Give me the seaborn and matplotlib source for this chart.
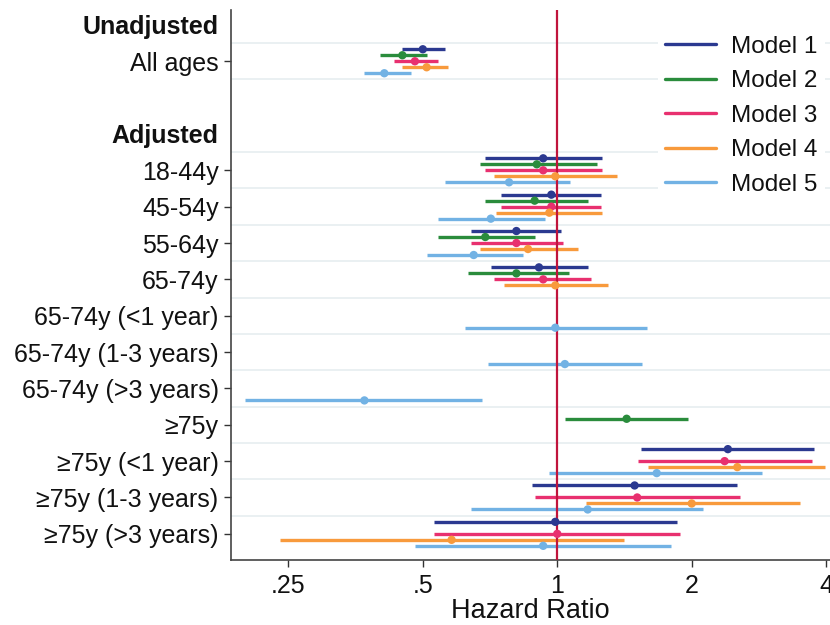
import numpy as np
import pandas as pd
import matplotlib
matplotlib.use("Agg")
import matplotlib.pyplot as plt
from matplotlib.lines import Line2D
import seaborn as sns

sns.set_theme(style="white")
plt.rcParams['font.family'] = ['Liberation Sans', 'DejaVu Sans']

row_labels = ["Unadjusted", "All ages", "", "Adjusted", "18-44y", "45-54y", "55-64y",
              "65-74y", "65-74y (<1 year)", "65-74y (1-3 years)", "65-74y (>3 years)",
              "≥75y", "≥75y (<1 year)", "≥75y (1-3 years)", "≥75y (>3 years)"]
header_rows = ["Unadjusted", "Adjusted"]
groups = ["All ages", "18-44y", "45-54y", "55-64y", "65-74y", "65-74y (<1 year)",
          "65-74y (1-3 years)", "65-74y (>3 years)", "≥75y", "≥75y (<1 year)",
          "≥75y (1-3 years)", "≥75y (>3 years)"]
models = ["Model 1", "Model 2", "Model 3", "Model 4", "Model 5"]
colors = ["#2b3990", "#2a8c3c", "#e8306f", "#f89a3c", "#72b2e4"]
nan = np.nan

m1_hr = [0.50, 0.93, 0.97, 0.81, 0.91, nan, nan, nan, nan, 2.41, 1.49, 0.99]
m1_lo = [0.45, 0.69, 0.75, 0.64, 0.71, nan, nan, nan, nan, 1.54, 0.88, 0.53]
m1_hi = [0.56, 1.26, 1.25, 1.02, 1.17, nan, nan, nan, nan, 3.76, 2.53, 1.85]

m2_hr = [0.45, 0.90, 0.89, 0.69, 0.81, nan, nan, nan, 1.43, nan, nan, nan]
m2_lo = [0.40, 0.67, 0.69, 0.54, 0.63, nan, nan, nan, 1.04, nan, nan, nan]
m2_hi = [0.51, 1.23, 1.17, 0.89, 1.06, nan, nan, nan, 1.96, nan, nan, nan]

m3_hr = [0.48, 0.93, 0.97, 0.81, 0.93, nan, nan, nan, nan, 2.37, 1.51, 1.00]
m3_lo = [0.43, 0.69, 0.75, 0.64, 0.72, nan, nan, nan, nan, 1.52, 0.89, 0.53]
m3_hi = [0.54, 1.26, 1.25, 1.03, 1.19, nan, nan, nan, nan, 3.71, 2.57, 1.88]

m4_hr = [0.51, 0.99, 0.96, 0.86, 0.99, nan, nan, nan, nan, 2.53, 2.00, 0.58]
m4_lo = [0.45, 0.72, 0.73, 0.67, 0.76, nan, nan, nan, nan, 1.60, 1.16, 0.24]
m4_hi = [0.57, 1.36, 1.26, 1.11, 1.30, nan, nan, nan, nan, 3.98, 3.49, 1.41]

m5_hr = [0.41, 0.78, 0.71, 0.65, nan, 0.99, 1.04, 0.37, nan, 1.67, 1.17, 0.93]
m5_lo = [0.37, 0.56, 0.54, 0.51, nan, 0.62, 0.70, 0.20, nan, 0.96, 0.64, 0.48]
m5_hi = [0.47, 1.07, 0.94, 0.84, nan, 1.59, 1.55, 0.68, nan, 2.87, 2.12, 1.80]

xticks = [0.25, 0.5, 1, 2, 4]
xticklabels = [".25", ".5", "1", "2", "4"]

hr_all = [m1_hr, m2_hr, m3_hr, m4_hr, m5_hr]
lo_all = [m1_lo, m2_lo, m3_lo, m4_lo, m5_lo]
hi_all = [m1_hi, m2_hi, m3_hi, m4_hi, m5_hi]

records = []
for mi, m in enumerate(models):
    for gi, g in enumerate(groups):
        if np.isnan(hr_all[mi][gi]):
            continue
        y = row_labels.index(g) + (mi - 2) * 0.165
        records.append(dict(model=m, group=g, y=y, hr=hr_all[mi][gi],
                            lo=lo_all[mi][gi], hi=hi_all[mi][gi]))
df = pd.DataFrame(records)

fig = plt.figure(figsize=(8.3, 6.25), dpi=100)
ax = fig.add_axes([231/830, 65/625, 1 - 231/830, 550/625])
ax.set_xscale("log")
ax.set_xlim(0.186, 4.08)
ax.set_ylim(14.72, -0.41)

# light gridlines between data rows
grid_y = [0.5, 1.5] + [r + 0.5 for r in range(3, 14)]
for gy in grid_y:
    ax.axhline(gy, color="#e6eef0", lw=1.2, zorder=0)

palette = dict(zip(models, colors))
for m in models:
    d = df[df.model == m]
    ax.hlines(d["y"], d["lo"], d["hi"], color=palette[m], lw=2.4, zorder=2)

ax.axvline(1, color="#c0143c", lw=1.6, zorder=3)

sns.scatterplot(data=df, x="hr", y="y", hue="model", palette=palette,
                s=36, edgecolor="none", legend=False, ax=ax, zorder=4)

ax.set_xticks(xticks)
ax.set_xticklabels(xticklabels)
ax.xaxis.set_minor_locator(matplotlib.ticker.NullLocator())
ax.set_yticks(range(len(row_labels)))
ax.set_yticklabels(row_labels)
ax.tick_params(axis="both", which="major", length=5, width=1, color="#333333",
               labelsize=18, labelcolor="#111111", direction="out",
               bottom=True, left=True, pad=4)
ax.tick_params(axis="x", pad=5)
for i, (lab, tk) in enumerate(zip(row_labels, ax.yaxis.get_major_ticks())):
    if lab in header_rows or lab == "":
        tk.tick1line.set_visible(False)
    if lab in header_rows:
        tk.label1.set_fontweight("bold")

ax.set_xlabel("Hazard Ratio", fontsize=19.5, color="#111111", labelpad=0)
ax.set_ylabel("")
for s in ["top", "right"]:
    ax.spines[s].set_visible(False)
for s in ["left", "bottom"]:
    ax.spines[s].set_color("#444444")
    ax.spines[s].set_linewidth(1.2)

handles = [Line2D([0], [0], color=c, lw=2.4) for c in colors]
leg = ax.legend(handles, models, loc="upper right", bbox_to_anchor=(1.0, 0.975),
                frameon=True, fontsize=17.5, handlelength=2.07, handletextpad=0.65,
                labelspacing=0.51, borderpad=0.3, borderaxespad=0.2)
for t in leg.get_texts():
    t.set_color("#111111")
leg.get_frame().set_facecolor("white")
leg.get_frame().set_edgecolor("none")
leg.get_frame().set_alpha(1)
leg.set_zorder(5)

fig.savefig("out.png", dpi=100)
